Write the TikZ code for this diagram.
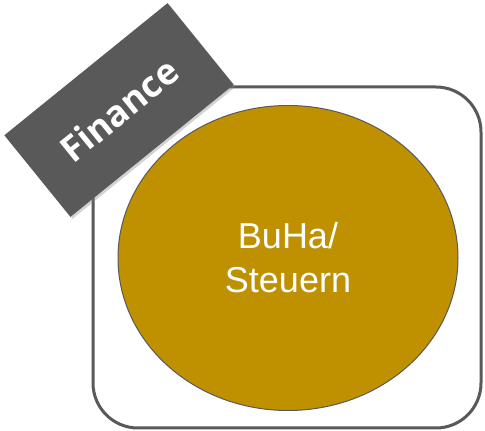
\documentclass[tikz,border=0pt]{standalone}
\usepackage{fontspec}
\setmainfont{Liberation Sans}
\newfontfamily\finfont{Open Sans}
\usetikzlibrary{shapes.geometric,shadows}
\definecolor{boxgray}{HTML}{595959}
\definecolor{gold}{HTML}{BF9000}
\tikzset{
  frame/.style={draw=boxgray, line width=3pt, rounded corners=45pt, fill=white},
  blob/.style={ellipse, draw=boxgray, line width=1pt, fill=gold, inner sep=0pt,
    minimum width=340pt, minimum height=305pt, text=white, align=center,
    font=\fontsize{36}{44}\selectfont},
  tag/.style={fill=boxgray, minimum width=210pt, minimum height=105pt, inner sep=0pt,
    text=white, font=\finfont\bfseries\fontsize{36}{40}\selectfont,
    drop shadow={shadow xshift=2pt, shadow yshift=-2pt, opacity=0.35}}
}
\begin{document}
\begin{tikzpicture}[x=1pt,y=1pt]
\useasboundingbox (0,0) rectangle (485,431);
\draw[frame] (93,344) rectangle (481,3);
\node[blob] (b) at (288,173) {BuHa/\\Steuern};
\node[tag, rotate=39] (f) at (119,321) {Finance};
\end{tikzpicture}
\end{document}
